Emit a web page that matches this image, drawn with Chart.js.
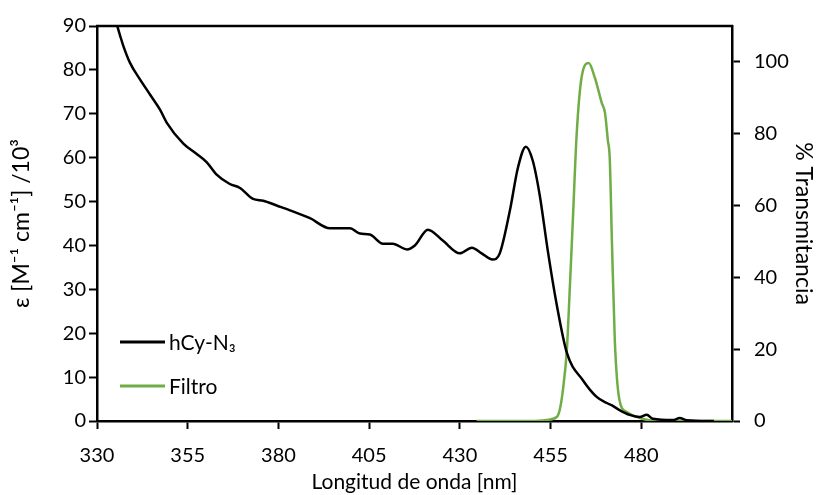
<!DOCTYPE html>
<html>
<head>
<meta charset="utf-8">
<script src="https://cdn.jsdelivr.net/npm/chart.js@4.4.1/dist/chart.umd.min.js"></script>
<style>
  html, body { margin: 0; padding: 0; background: #fff; }
  #wrap { width: 817px; height: 495px; }
</style>
</head>
<body>
<div id="wrap"><canvas id="spectrumChart"></canvas></div>
<script>
// absorbance spectrum (left axis)
const waveAbs = [333, 335.4, 336.3, 337.2, 339.1, 341.8, 344.6, 347.4, 349.2, 353.8, 357.4, 360.2,
  362.9, 366.6, 369.4, 373, 375.8, 379.5, 383.2, 388.7,
  394.2, 399.7, 402.5, 405.2, 408.8, 411.5, 415.4, 417.6, 421.2, 425.3, 430, 433.3, 436, 439, 441,
  443.8, 446, 448.2, 450.1, 452, 454.2, 456.7, 459.5, 463.9, 467.7, 470.5, 471.8, 474, 476.8, 479.6,
  481.5, 483.2, 488.7, 490.6, 492.5, 500];
const epsAbs = [97, 90.5, 88, 85.6, 81.6, 77.9, 74.4, 70.9, 68, 63.2, 60.9, 59,
  56.2, 54, 53.1, 50.6, 50.2, 49.1, 48, 46.2,
  43.9, 43.9, 42.7, 42.5, 40.4, 40.4, 39.1, 40, 43.6, 41.1, 38.2, 39.5, 38.2, 36.8, 38.2,
  48, 57.7, 62.5, 59.3, 51.5, 39, 26.5, 15.5, 9.3, 5.5, 4.1, 3.6, 2.5, 1.4, 0.9,
  1.4, 0.5, 0.2, 0.7, 0.2, 0];

// filter transmittance (right axis)
const waveFilter = [434.6, 450, 454, 456.7, 457.5, 458.4, 459.5, 460.3, 461.1, 462.2, 463.6, 465.5,
  467.2, 469.1, 470, 470.8, 471.3, 471.9, 472.7, 474, 476, 479.6, 485, 505];
const transFilter = [0, 0, 0.3, 1.1, 3, 8.6, 20, 37, 55, 80, 96, 99.7,
  95.6, 88.6, 85.8, 78, 73.3, 50.3, 22.5, 5.8, 2.5, 0.8, 0, 0];

const xTicks = [330, 355, 380, 405, 430, 455, 480];
const leftTicks = [0, 10, 20, 30, 40, 50, 60, 70, 80, 90];
const rightTicks = [0, 20, 40, 60, 80, 100];

const FONT = 'Lato, "Open Sans", sans-serif';

function toPoints(xs, ys) {
  return xs.map((x, i) => ({ x: x, y: ys[i] }));
}

// top border of the plot box
const boxTop = {
  id: 'boxTop',
  afterDraw(chart) {
    const a = chart.chartArea;
    const ctx = chart.ctx;
    ctx.save();
    ctx.strokeStyle = '#000';
    ctx.lineWidth = 2.5;
    ctx.beginPath();
    ctx.moveTo(a.left - 1, a.top);
    ctx.lineTo(a.right + 1, a.top);
    ctx.stroke();
    ctx.restore();
  }
};

// legend inside the plot, bottom left
const insideLegend = {
  id: 'insideLegend',
  afterDraw(chart) {
    const ctx = chart.ctx;
    const a = chart.chartArea;
    ctx.save();
    ctx.font = '21px ' + FONT;
    ctx.textBaseline = 'middle';
    chart.data.datasets.forEach((ds, i) => {
      const y = a.top + 316 + i * 44;
      ctx.strokeStyle = ds.borderColor;
      ctx.lineWidth = 3;
      ctx.beginPath();
      ctx.moveTo(a.left + 23, y);
      ctx.lineTo(a.left + 68, y);
      ctx.stroke();
      ctx.fillStyle = '#000';
      ctx.fillText(ds.label, a.left + 72, y + 1);
    });
    ctx.restore();
  }
};

const ctx = document.getElementById('spectrumChart').getContext('2d');
const spectrumChart = new Chart(ctx, {
  type: 'line',
  data: {
    datasets: [
      {
        label: 'hCy-N₃',
        data: toPoints(waveAbs, epsAbs),
        borderColor: '#000000',
        borderWidth: 2.5,
        pointRadius: 0,
        cubicInterpolationMode: 'monotone',
        yAxisID: 'y'
      },
      {
        label: 'Filtro',
        data: toPoints(waveFilter, transFilter),
        borderColor: '#70AD47',
        borderWidth: 2.5,
        pointRadius: 0,
        cubicInterpolationMode: 'monotone',
        yAxisID: 'y1'
      }
    ]
  },
  options: {
    responsive: true,
    maintainAspectRatio: false,
    animation: false,
    layout: { padding: { top: 24, left: 0, right: 0, bottom: 0 } },
    plugins: {
      legend: { display: false },
      tooltip: { enabled: false }
    },
    scales: {
      x: {
        type: 'linear',
        min: 330,
        max: 505,
        afterBuildTicks: (scale) => { scale.ticks = xTicks.map(v => ({ value: v })); },
        afterFit: (scale) => { scale.height = 74; },
        border: { color: '#000', width: 2.5 },
        grid: { drawOnChartArea: false, tickLength: 8, tickColor: '#000', tickWidth: 2 },
        ticks: { color: '#000', font: { family: FONT, size: 20 }, padding: 15, maxRotation: 0 },
        title: {
          display: true,
          text: 'Longitud de onda [nm]',
          color: '#000',
          font: { family: FONT, size: 21 },
          padding: { top: 0, bottom: 0 }
        }
      },
      y: {
        position: 'left',
        min: 0,
        max: 90,
        afterBuildTicks: (scale) => { scale.ticks = leftTicks.map(v => ({ value: v })); },
        afterFit: (scale) => { scale.width = 97; },
        border: { color: '#000', width: 2.5 },
        grid: { drawOnChartArea: false, tickLength: 8, tickColor: '#000', tickWidth: 2 },
        ticks: { color: '#000', font: { family: FONT, size: 20 }, padding: 3 },
        title: {
          display: true,
          text: 'ε [M⁻¹ cm⁻¹] /10³',
          color: '#000',
          font: { family: FONT, size: 23 },
          padding: { top: 8, bottom: 0 }
        }
      },
      y1: {
        position: 'right',
        min: 0,
        max: 110,
        afterBuildTicks: (scale) => { scale.ticks = rightTicks.map(v => ({ value: v })); },
        afterFit: (scale) => { scale.width = 85; },
        border: { color: '#000', width: 2.5 },
        grid: { drawOnChartArea: false, tickLength: 8, tickColor: '#000', tickWidth: 2 },
        ticks: { color: '#000', font: { family: FONT, size: 20 }, padding: 14 },
        title: {
          display: true,
          text: '% Transmitancia',
          color: '#000',
          font: { family: FONT, size: 23 },
          padding: { top: 0, bottom: 2 }
        }
      }
    }
  },
  plugins: [boxTop, insideLegend]
});
</script>
</body>
</html>
